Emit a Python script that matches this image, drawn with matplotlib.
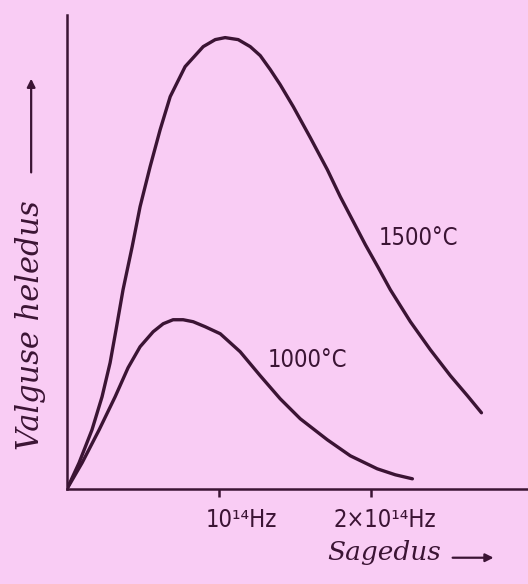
import matplotlib
matplotlib.use("Agg")
import matplotlib.pyplot as plt
from matplotlib import font_manager

# frequency in units of 1e14 Hz, brightness in arbitrary units
nu_1500 = [0, 0.079, 0.164, 0.230, 0.283, 0.322, 0.368, 0.428, 0.480, 0.546,
           0.612, 0.678, 0.776, 0.895, 0.974, 1.039, 1.125, 1.204, 1.270, 1.336,
           1.401, 1.487, 1.599, 1.711, 1.796, 1.882, 1.961, 2.046, 2.125, 2.257,
           2.388, 2.520, 2.632, 2.724]
I_1500 = [0, 0.26, 0.59, 0.92, 1.26, 1.59, 1.99, 2.42, 2.82, 3.22,
          3.59, 3.92, 4.22, 4.42, 4.49, 4.51, 4.49, 4.42, 4.33, 4.19,
          4.04, 3.82, 3.51, 3.19, 2.92, 2.67, 2.44, 2.21, 1.99, 1.67,
          1.39, 1.13, 0.93, 0.76]

nu_1000 = [0, 0.099, 0.211, 0.316, 0.401, 0.480, 0.566, 0.632, 0.697, 0.763,
           0.829, 0.908, 1.007, 1.138, 1.270, 1.401, 1.533, 1.711, 1.862, 2.039,
           2.158, 2.270]
I_1000 = [0, 0.26, 0.59, 0.92, 1.21, 1.42, 1.57, 1.65, 1.69, 1.69,
          1.67, 1.62, 1.55, 1.37, 1.13, 0.90, 0.70, 0.49, 0.33, 0.20,
          0.14, 0.10]

tick_pos = [1, 2]
tick_labels = ["10¹⁴Hz", "2×10¹⁴Hz"]
curve_labels = ["1500°C", "1000°C"]

bg = "#f9ccf4"
ink = "#3b1434"

names = {f.name for f in font_manager.fontManager.ttflist}
if "Liberation Sans Narrow" in names:
    num_font = dict(family="Liberation Sans Narrow", size=20)
else:
    num_font = dict(family="DejaVu Sans", stretch="condensed", size=17)
hand_font = dict(family="DejaVu Serif", style="italic")

fig = plt.figure(figsize=(5.28, 5.84), dpi=100, facecolor=bg)
ax = fig.add_axes([0.127, 0.163, 0.873, 0.812])
ax.set_facecolor(bg)

ax.plot(nu_1500, I_1500, color=ink, lw=2.4, solid_capstyle="round", solid_joinstyle="round")
ax.plot(nu_1000, I_1000, color=ink, lw=2.4, solid_capstyle="round", solid_joinstyle="round")

ax.set_xlim(0, 3.03)
ax.set_ylim(0, 4.74)
for s in ["top", "right"]:
    ax.spines[s].set_visible(False)
for s in ["left", "bottom"]:
    ax.spines[s].set_color(ink)
    ax.spines[s].set_linewidth(1.8)
ax.set_yticks([])
ax.set_xticks(tick_pos)
ax.set_xticklabels([])
ax.tick_params(axis="x", which="major", bottom=True, direction="out",
               length=6, width=1.8, color=ink)

# tick labels sit a bit right of the ticks, as in the book
offsets = [16, 10]
for t, lbl, dx in zip(tick_pos, tick_labels, offsets):
    ax.annotate(lbl, xy=(t, 0), xycoords=("data", "axes fraction"),
                xytext=(dx, -14), textcoords="offset points",
                ha="center", va="top", color=ink, **num_font)

ax.text(2.309, 2.51, curve_labels[0], ha="center", va="center", color=ink, **num_font)
ax.text(1.579, 1.29, curve_labels[1], ha="center", va="center", color=ink, **num_font)

fig.text(0.727, 0.041, "Sagedus", ha="center", va="baseline", color=ink, size=19, **hand_font)
ax.annotate("", xy=(0.94, 0.045), xytext=(0.852, 0.045), xycoords="figure fraction",
            arrowprops=dict(arrowstyle="-|>", color=ink, lw=1.6, mutation_scale=12))

fig.text(0.057, 0.443, "Valguse heledus", rotation=90, ha="center", va="center",
         color=ink, size=22, **hand_font)
ax.annotate("", xy=(0.059, 0.87), xytext=(0.059, 0.70), xycoords="figure fraction",
            arrowprops=dict(arrowstyle="-|>", color=ink, lw=1.6, mutation_scale=12))

fig.savefig("out.png", dpi=100, facecolor=bg)
